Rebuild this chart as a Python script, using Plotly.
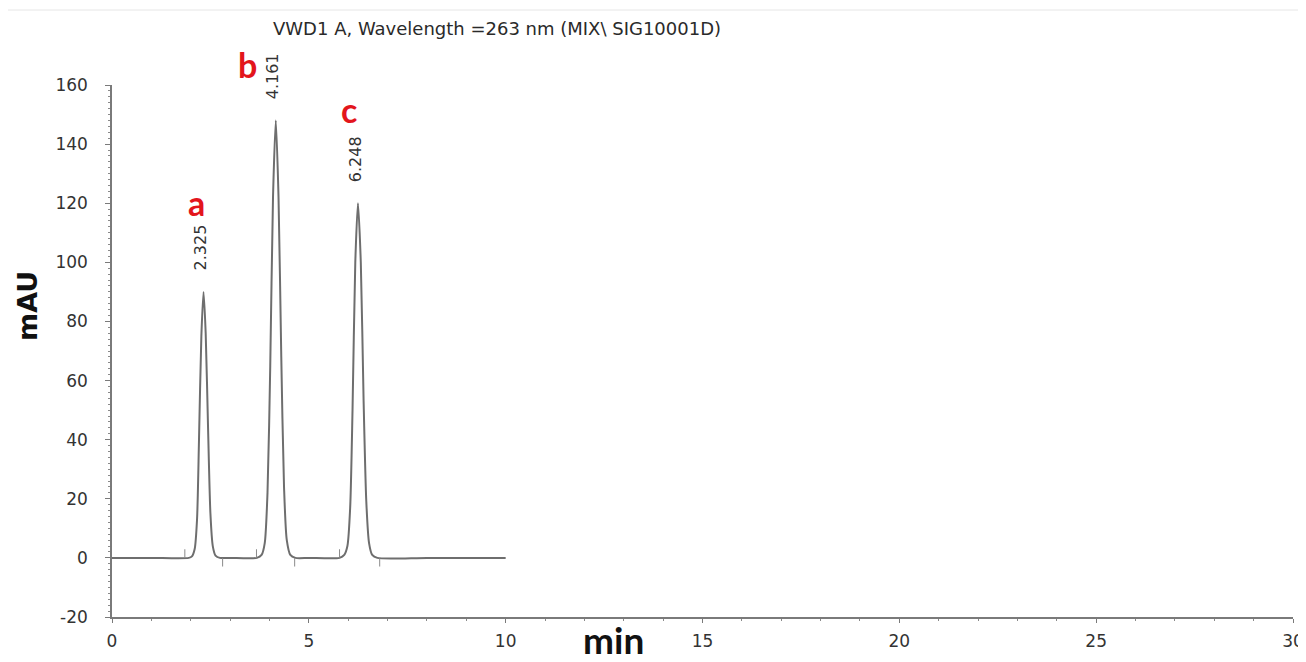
import plotly.graph_objects as go

# Chromatogram trace (time in min, signal in mAU)
time_min = [0.0, 1.0, 1.95,
            2.03, 2.1, 2.16, 2.21, 2.27, 2.325, 2.38, 2.44, 2.5, 2.56, 2.63, 2.74,
            3.0, 3.68,
            3.8, 3.88, 3.95, 4.02, 4.09, 4.161, 4.23, 4.3, 4.37, 4.44, 4.53, 4.66,
            5.0, 5.78,
            5.9, 5.98, 6.05, 6.11, 6.18, 6.248, 6.32, 6.39, 6.46, 6.53, 6.61, 6.74,
            8.0, 10.0]
signal_mau = [0.0, 0.0, 0.0,
              0.5, 3, 13, 40, 75, 90, 76, 44, 15, 4, 0.8, 0.0,
              0.0, 0.0,
              1, 5, 22, 65, 122, 148, 122, 68, 24, 6, 1, 0.0,
              0.0, 0.0,
              1, 4, 17, 50, 100, 120, 100, 54, 19, 5, 1, 0.0,
              0.0, 0.0]

# Peak retention times / heights and labels
peak_times = [2.325, 4.161, 6.248]
peak_heights = [90, 148, 120]
peak_rt_labels = ["2.325", "4.161", "6.248"]
peak_letters = ["a", "b", "c"]

# Integration start / end markers
start_marks = [1.85, 3.67, 5.78]
end_marks = [2.81, 4.64, 6.8]

x_ticks = [0, 5, 10, 15, 20, 25, 30]
y_ticks = [-20, 0, 20, 40, 60, 80, 100, 120, 140, 160]

# plot area in screenshot pixels: left 112, top 85, width 1181, height 532
PL, PT, PW, PH = 112, 85, 1181, 532

fig = go.Figure()
fig.add_trace(go.Scatter(
    x=time_min, y=signal_mau, mode="lines",
    line=dict(color="#6e6e6e", width=2, shape="spline", smoothing=0.7),
    hoverinfo="x+y", showlegend=False))
fig.add_trace(go.Scatter(
    x=start_marks, y=[1.5] * len(start_marks), mode="markers",
    marker=dict(symbol="line-ns", size=6, line=dict(color="#8a8a8a", width=1)),
    showlegend=False, hoverinfo="skip"))
fig.add_trace(go.Scatter(
    x=end_marks, y=[-1.5] * len(end_marks), mode="markers",
    marker=dict(symbol="line-ns", size=6, line=dict(color="#8a8a8a", width=1)),
    showlegend=False, hoverinfo="skip"))

annotations = []
for t, h, lab in zip(peak_times, peak_heights, peak_rt_labels):
    annotations.append(dict(
        x=t, y=h, xref="x", yref="y", text=lab, textangle=-90,
        showarrow=False, xanchor="center", yanchor="middle",
        xshift=-3, yshift=44,
        font=dict(family="DejaVu Sans", size=16, color="#333333")))

letter_px = [(196, 203), (247, 65), (349, 110)]
for (px, py), let in zip(letter_px, peak_letters):
    annotations.append(dict(
        x=(px - PL) / PW, y=(PT + PH - py) / PH, xref="paper", yref="paper",
        text="<b>%s</b>" % let,
        showarrow=False, xanchor="center", yanchor="middle",
        font=dict(family="Lato", size=34, color="#e3151c")))

annotations.append(dict(
    x=(497 - PL) / PW, y=1, xref="paper", yref="paper", yshift=57,
    text="VWD1 A, Wavelength =263 nm (MIX\\ SIG10001D)",
    showarrow=False, xanchor="center", yanchor="middle",
    font=dict(family="DejaVu Sans", size=18, color="#2a2a2a")))
annotations.append(dict(
    x=0, y=(PT + PH - 306) / PH, xref="paper", yref="paper", xshift=-85,
    text="<b>mAU</b>", textangle=-90, showarrow=False,
    xanchor="center", yanchor="middle",
    font=dict(family="DejaVu Sans", size=27, color="#111111")))
annotations.append(dict(
    x=(613 - PL) / PW, y=0, xref="paper", yref="paper", yshift=-22,
    text="<b>min</b>", showarrow=False,
    xanchor="center", yanchor="middle",
    font=dict(family="Lato", size=37, color="#111111")))

# the page body adds an 8 px offset, so the figure is 8 px smaller
fig.update_layout(
    width=1298, height=654,
    margin=dict(l=104, r=13, t=77, b=45, autoexpand=False),
    paper_bgcolor="white", plot_bgcolor="white",
    annotations=annotations,
    shapes=[dict(type="line", xref="paper", yref="paper",
                 x0=(8 - PL) / PW, x1=(1300 - PL) / PW,
                 y0=(PT + PH - 10) / PH, y1=(PT + PH - 10) / PH,
                 line=dict(color="#e6e6e6", width=1))],
)
fig.update_xaxes(
    range=[0, 30], tickvals=x_ticks, ticktext=[str(v) for v in x_ticks],
    showgrid=False, zeroline=False, showline=True, linecolor="#7a7a7a", linewidth=1.5,
    ticks="outside", ticklen=4, tickcolor="#7a7a7a", ticklabelstandoff=4,
    ticklabeloverflow="allow",
    minor=dict(dtick=1, ticks="outside", ticklen=2, tickcolor="#8a8a8a"),
    tickfont=dict(family="DejaVu Sans", size=17, color="#333333"))
fig.update_yaxes(
    range=[-20, 160], tickvals=y_ticks, ticktext=[str(v) for v in y_ticks],
    showgrid=False, zeroline=False, showline=True, linecolor="#7a7a7a", linewidth=1.5,
    ticks="outside", ticklen=5, tickcolor="#7a7a7a", ticklabelstandoff=14,
    minor=dict(dtick=2, ticks="outside", ticklen=2, tickcolor="#8a8a8a"),
    tickfont=dict(family="DejaVu Sans", size=17, color="#333333"))

fig.write_html("out.html")
